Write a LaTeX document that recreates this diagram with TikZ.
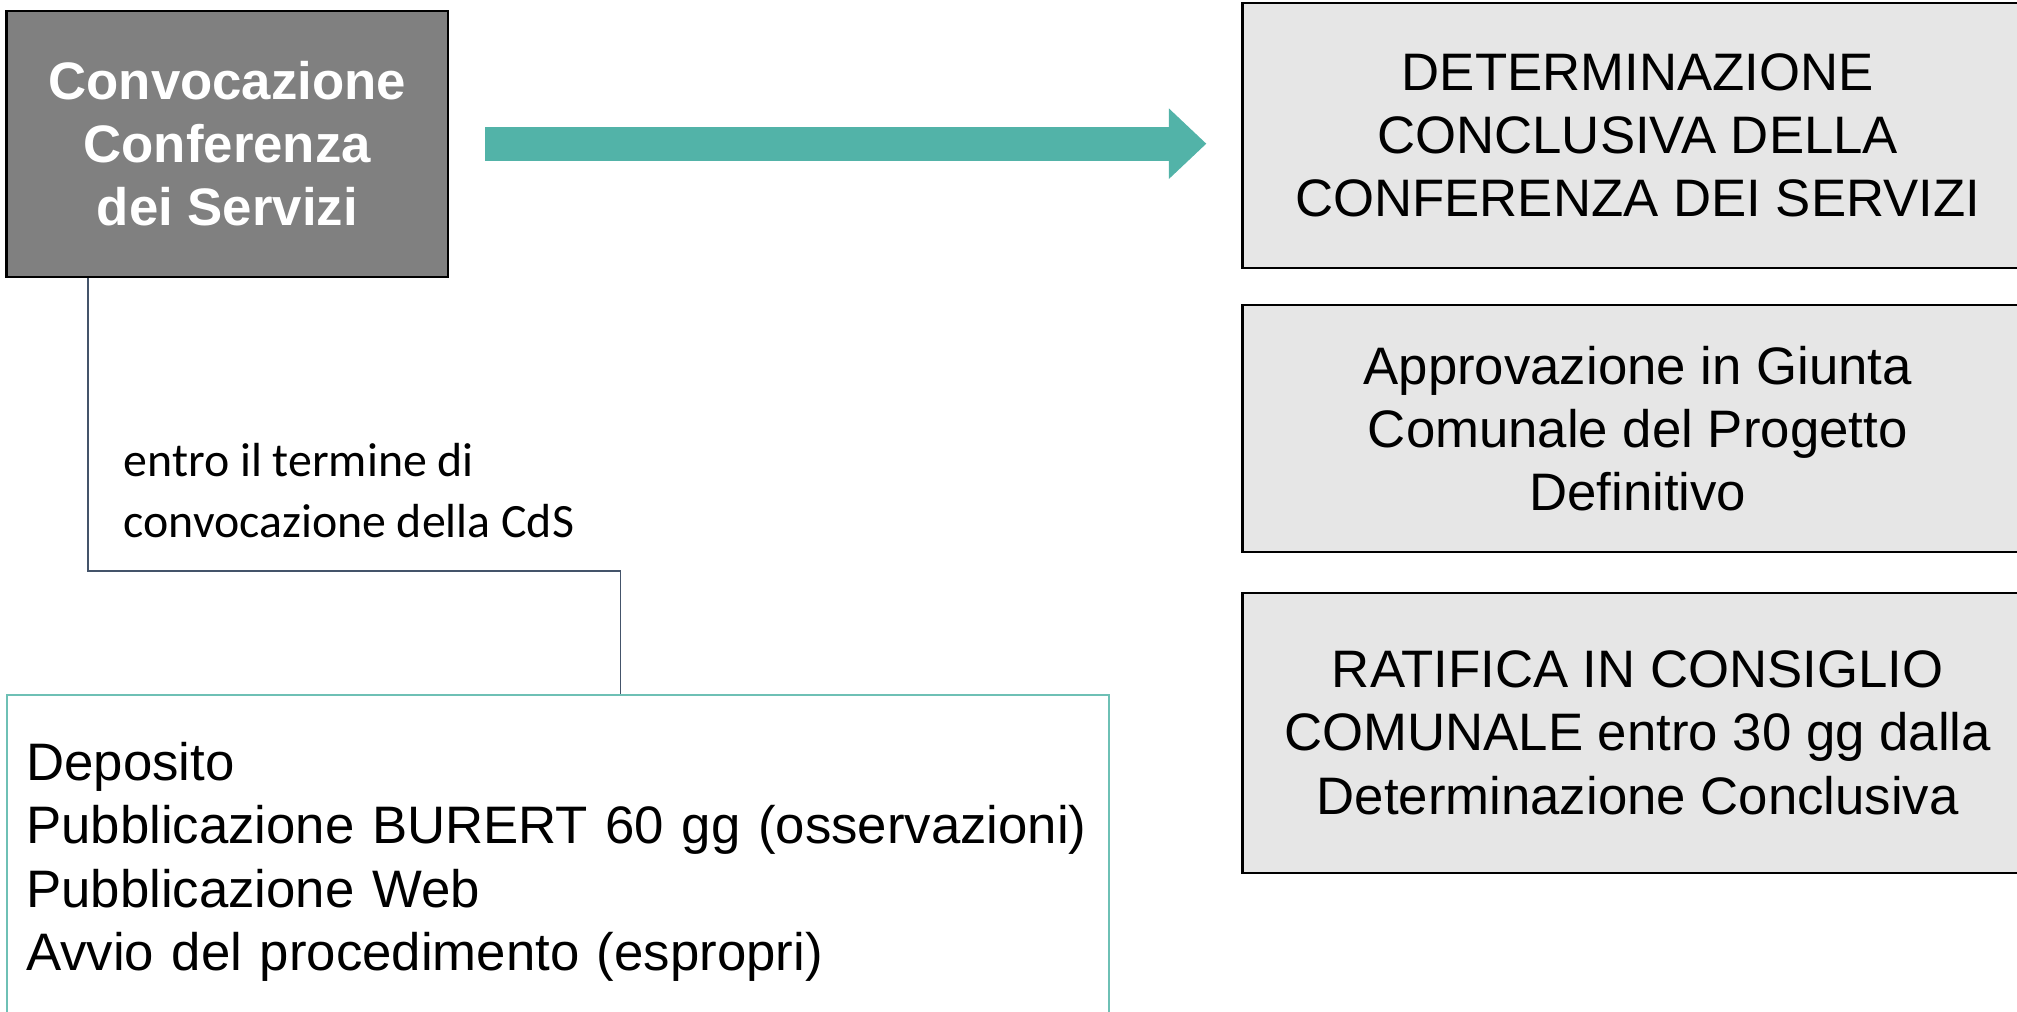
\documentclass[tikz,border=0pt]{standalone}
\usepackage{fontspec}
\setmainfont{Liberation Sans}
\newfontfamily\notefont{Carlito}
\usetikzlibrary{arrows.meta}
\definecolor{mydarkgray}{RGB}{128,128,128}
\definecolor{mylightgray}{RGB}{230,230,230}
\definecolor{myteal}{RGB}{82,179,168}
\definecolor{myframe}{RGB}{110,192,181}
\definecolor{myslate}{RGB}{68,84,106}
\newcommand*{\mytextstyle}{\fontsize{15}{18}\selectfont}
\newcommand*{\mynotestyle}{\notefont\fontsize{13.6}{17.3}\selectfont}

\begin{document}
\begin{tikzpicture}[
   x = 0.01cm,
   y = -0.01cm,
   stepbox/.style = {
      draw      = black,
      line width = 0.6pt,
      fill      = mylightgray,
      align     = center,
      font      = \mytextstyle,
      inner sep = 0pt,
      minimum width = 7.9cm
   },
   bigarrow/.style = {
      myteal,
      line width = 0.34cm,
      -{Triangle[length=0.376cm, width=0.684cm]}
   },
   link/.style = {myslate, line width = 0.45pt}
]
   \useasboundingbox (0,0) rectangle (2017,1012);
   \clip (0,0) rectangle (2017,1012);

   \node at (227.3,143.7) [
      stepbox,
      fill  = mydarkgray,
      font  = \mytextstyle\bfseries,
      text  = white,
      minimum width  = 4.413cm,
      minimum height = 2.66cm
   ] (convoc) {Convocazione\\Conferenza\\dei Servizi};

   \node at (1637.7,135.3) [stepbox, minimum height = 2.653cm] (determ)
      {DETERMINAZIONE\\CONCLUSIVA DELLA\\CONFERENZA DEI SERVIZI};
   \node at (1637.7,428.5) [stepbox, minimum height = 2.47cm] (approv)
      {Approvazione in Giunta\\Comunale del Progetto\\Definitivo};
   \node at (1637.7,732.7) [stepbox, minimum height = 2.8cm] (ratifica)
      {RATIFICA IN CONSIGLIO\\COMUNALE entro 30 gg dalla\\Determinazione Conclusiva};

   \node at (5.8,694.3) [
      anchor     = north west,
      draw       = myframe,
      line width = 0.6pt,
      align      = left,
      font       = \mytextstyle,
      inner xsep = 0.194cm,
      inner ysep = 0pt,
      text width = 10.63cm,
      minimum height = 3.33cm
   ] (adempim) {Deposito\\Pubblicazione BURERT 60 gg (osservazioni)\\Pubblicazione Web\\Avvio del procedimento (espropri)};

   \draw[bigarrow] ([xshift=0.36cm]convoc.east) -- ([xshift=-0.35cm]convoc.east -| determ.west);

   \coordinate (bend) at (620.5,571);
   \draw[link] ([xshift=0.8265cm]convoc.south west) |- (bend) -- (bend |- adempim.north);

   \node at (123,537) [
      anchor = base west,
      align  = left,
      font   = \mynotestyle,
      inner sep = 0pt
   ] (cdsnote) {entro il termine di\\convocazione della CdS};
\end{tikzpicture}
\end{document}
